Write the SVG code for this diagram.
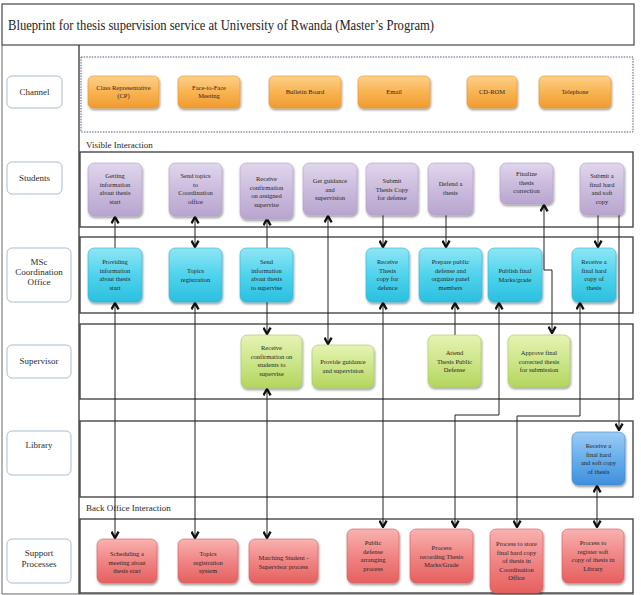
<svg xmlns="http://www.w3.org/2000/svg" width="641" height="595" viewBox="0 0 641 595">
<defs>
<linearGradient id="gOr" x1="0" y1="0" x2="0" y2="1"><stop offset="0" stop-color="#fdd08a"/><stop offset="0.5" stop-color="#f9b452"/><stop offset="1" stop-color="#f19a2e"/></linearGradient>
<linearGradient id="gPu" x1="0" y1="0" x2="0" y2="1"><stop offset="0" stop-color="#e0d6ec"/><stop offset="0.5" stop-color="#cbbcdd"/><stop offset="1" stop-color="#b8a5cf"/></linearGradient>
<linearGradient id="gCy" x1="0" y1="0" x2="0" y2="1"><stop offset="0" stop-color="#8fe6f5"/><stop offset="0.5" stop-color="#4fd3ec"/><stop offset="1" stop-color="#2bbfe0"/></linearGradient>
<linearGradient id="gGr" x1="0" y1="0" x2="0" y2="1"><stop offset="0" stop-color="#e6f3b4"/><stop offset="0.5" stop-color="#cde68a"/><stop offset="1" stop-color="#b4d55e"/></linearGradient>
<linearGradient id="gBl" x1="0" y1="0" x2="0" y2="1"><stop offset="0" stop-color="#9cccf4"/><stop offset="0.5" stop-color="#68aeec"/><stop offset="1" stop-color="#3f8fdc"/></linearGradient>
<linearGradient id="gRd" x1="0" y1="0" x2="0" y2="1"><stop offset="0" stop-color="#f9b2b0"/><stop offset="0.5" stop-color="#f08584"/><stop offset="1" stop-color="#e5605f"/></linearGradient>
<filter id="sh" x="-20%" y="-20%" width="140%" height="140%"><feDropShadow dx="0.8" dy="1.8" stdDeviation="1.2" flood-color="#000" flood-opacity="0.4"/></filter>
<marker id="ah" viewBox="0 0 10 10" refX="8.5" refY="5" markerWidth="9" markerHeight="9" markerUnits="userSpaceOnUse" orient="auto-start-reverse"><path d="M1.5,1 L8.5,5 L1.5,9" fill="none" stroke="#111" stroke-width="2.6"/></marker>
</defs>
<style>
.lane{fill:none;stroke:#3a3a3a;stroke-width:1.3}
.lbl{fill:#fff;stroke:#a9bcd6;stroke-width:1}
.lt{font-family:"Liberation Serif",serif;font-size:9px;fill:#2a2a2a;text-anchor:middle}
.nt{font-family:"Liberation Serif",serif;font-size:6.5px;fill:#262626;text-anchor:middle}
.sec{font-family:"Liberation Serif",serif;font-size:9px;fill:#2a2a2a}
.or{fill:url(#gOr);stroke:#e6962c;stroke-width:0.6;filter:url(#sh)}
.pu{fill:url(#gPu);stroke:#b3a0c9;stroke-width:0.6;filter:url(#sh)}
.cy{fill:url(#gCy);stroke:#2fb6d6;stroke-width:0.6;filter:url(#sh)}
.gr{fill:url(#gGr);stroke:#a9c85a;stroke-width:0.6;filter:url(#sh)}
.bl{fill:url(#gBl);stroke:#3f88cf;stroke-width:0.6;filter:url(#sh)}
.rd{fill:url(#gRd);stroke:#d85b5a;stroke-width:0.6;filter:url(#sh)}
.c{fill:none;stroke:#222;stroke-width:1}
</style>
<rect width="641" height="595" fill="#fff"/>

<!-- frame -->
<g id="frame">
<rect x="2" y="4" width="632" height="41" fill="#fff" stroke="#555" stroke-width="1.3"/>
<text x="8" y="30" font-family="Liberation Serif, serif" font-size="14" fill="#222" textLength="426" lengthAdjust="spacingAndGlyphs">Blueprint for thesis supervision service at University of Rwanda (Master’s Program)</text>
<line x1="2" y1="45" x2="2" y2="594" stroke="#666" stroke-width="1"/>
<line x1="79" y1="45" x2="79" y2="594" stroke="#333" stroke-width="1.3"/>
<line x1="2" y1="594" x2="634" y2="594" stroke="#666" stroke-width="1"/>
<rect x="81" y="57" width="552" height="75" fill="none" stroke="#4a5a7a" stroke-width="1" stroke-dasharray="1.5,1.2"/>
<text class="sec" x="86" y="148">Visible Interaction</text>
<text class="sec" x="86" y="511">Back Office Interaction</text>
<rect class="lane" x="80" y="152" width="553" height="75"/>
<rect class="lane" x="80" y="237" width="553" height="76"/>
<rect class="lane" x="80" y="324" width="553" height="75"/>
<rect class="lane" x="80" y="421" width="553" height="76"/>
<rect class="lane" x="80" y="519" width="553" height="74"/>
</g>

<!-- lane labels -->
<g id="lbl-channel"><rect class="lbl" x="7" y="76" width="55" height="32" rx="5"/><text class="lt" x="34.5" y="95">Channel</text></g>
<g id="lbl-students"><rect class="lbl" x="7" y="162" width="55" height="32" rx="5"/><text class="lt" x="34.5" y="181">Students</text></g>
<g id="lbl-msc"><rect class="lbl" x="7" y="248" width="64" height="54" rx="5"/><text class="lt" x="39" y="265"><tspan x="39">MSc</tspan><tspan x="39" dy="10">Coordination</tspan><tspan x="39" dy="10">Office</tspan></text></g>
<g id="lbl-supervisor"><rect class="lbl" x="7" y="345" width="64" height="33" rx="5"/><text class="lt" x="39" y="364">Supervisor</text></g>
<g id="lbl-library"><rect class="lbl" x="7" y="431" width="64" height="44" rx="5"/><text class="lt" x="39" y="448">Library</text></g>
<g id="lbl-support"><rect class="lbl" x="7" y="539" width="64" height="44" rx="5"/><text class="lt" x="39" y="556"><tspan x="39">Support</tspan><tspan x="39" dy="11">Processes</tspan></text></g>

<!-- connectors -->
<g id="connectors">
<line class="c" x1="115" y1="248" x2="115" y2="217" marker-end="url(#ah)"/>
<line class="c" x1="115" y1="303" x2="115" y2="538" marker-start="url(#ah)" marker-end="url(#ah)"/>
<line class="c" x1="195" y1="217" x2="195" y2="247" marker-start="url(#ah)" marker-end="url(#ah)"/>
<line class="c" x1="195" y1="303" x2="195" y2="538" marker-start="url(#ah)" marker-end="url(#ah)"/>
<line class="c" x1="267" y1="248" x2="267" y2="219" marker-end="url(#ah)"/>
<line class="c" x1="267" y1="302" x2="267" y2="334" marker-end="url(#ah)"/>
<line class="c" x1="267" y1="389" x2="267" y2="538" marker-start="url(#ah)" marker-end="url(#ah)"/>
<line class="c" x1="328" y1="216" x2="328" y2="344" marker-start="url(#ah)" marker-end="url(#ah)"/>
<line class="c" x1="383" y1="215" x2="383" y2="247" marker-end="url(#ah)"/>
<line class="c" x1="383" y1="303" x2="383" y2="527" marker-start="url(#ah)" marker-end="url(#ah)"/>
<line class="c" x1="446" y1="215" x2="446" y2="247" marker-end="url(#ah)"/>
<line class="c" x1="455" y1="335" x2="455" y2="303" marker-end="url(#ah)"/>
<path class="c" d="M499,303 V415 H455 V527" marker-start="url(#ah)" marker-end="url(#ah)"/>
<path class="c" d="M544,205 V270 H552 V333" marker-start="url(#ah)" marker-end="url(#ah)"/>
<path class="c" d="M580,303 V416 H517 V527" marker-start="url(#ah)" marker-end="url(#ah)"/>
<line class="c" x1="598" y1="215" x2="598" y2="247" marker-end="url(#ah)"/>
<line class="c" x1="619" y1="215" x2="619" y2="430" marker-end="url(#ah)"/>
<line class="c" x1="597" y1="486" x2="597" y2="527" marker-start="url(#ah)" marker-end="url(#ah)"/>
</g>

<!-- channel nodes -->
<g id="ch-cp"><rect class="or" x="88" y="76" width="71" height="32" rx="5"/><text class="nt" x="123.5" y="90"><tspan x="123.5">Class Representative</tspan><tspan x="123.5" dy="8">(CP)</tspan></text></g>
<g id="ch-f2f"><rect class="or" x="178" y="76" width="62" height="32" rx="5"/><text class="nt" x="209" y="90"><tspan x="209">Face-to-Face</tspan><tspan x="209" dy="8">Meeting</tspan></text></g>
<g id="ch-bulletin"><rect class="or" x="269" y="76" width="72" height="32" rx="5"/><text class="nt" x="305" y="94">Bulletin Board</text></g>
<g id="ch-email"><rect class="or" x="358" y="76" width="72" height="32" rx="5"/><text class="nt" x="394" y="94">Email</text></g>
<g id="ch-cdrom"><rect class="or" x="467" y="76" width="50" height="32" rx="5"/><text class="nt" x="492" y="94">CD-ROM</text></g>
<g id="ch-tel"><rect class="or" x="539" y="76" width="72" height="32" rx="5"/><text class="nt" x="575" y="94">Telephone</text></g>

<!-- students -->
<g id="st-getting"><rect class="pu" x="88" y="163" width="54" height="53" rx="6"/><text class="nt" x="115" y="178"><tspan x="115">Getting</tspan><tspan x="115" dy="8.5">information</tspan><tspan x="115" dy="8.5">about thesis</tspan><tspan x="115" dy="8.5">start</tspan></text></g>
<g id="st-send"><rect class="pu" x="169" y="163" width="53" height="53" rx="6"/><text class="nt" x="195.5" y="178"><tspan x="195.5">Send topics</tspan><tspan x="195.5" dy="8.5">to</tspan><tspan x="195.5" dy="8.5">Coordination</tspan><tspan x="195.5" dy="8.5">office</tspan></text></g>
<g id="st-receive"><rect class="pu" x="240" y="163" width="53" height="56" rx="6"/><text class="nt" x="266.5" y="181"><tspan x="266.5">Receive</tspan><tspan x="266.5" dy="8.5">confirmation</tspan><tspan x="266.5" dy="8.5">on assigned</tspan><tspan x="266.5" dy="8.5">supervise</tspan></text></g>
<g id="st-guidance"><rect class="pu" x="303" y="163" width="54" height="52" rx="6"/><text class="nt" x="330" y="183"><tspan x="330">Get guidance</tspan><tspan x="330" dy="8.5">and</tspan><tspan x="330" dy="8.5">supervision</tspan></text></g>
<g id="st-submit"><rect class="pu" x="366" y="163" width="52" height="52" rx="6"/><text class="nt" x="392" y="183"><tspan x="392">Submit</tspan><tspan x="392" dy="8.5">Thesis Copy</tspan><tspan x="392" dy="8.5">for defense</tspan></text></g>
<g id="st-defend"><rect class="pu" x="428" y="163" width="45" height="52" rx="6"/><text class="nt" x="450.5" y="186"><tspan x="450.5">Defend a</tspan><tspan x="450.5" dy="8.5">thesis</tspan></text></g>
<g id="st-finalize"><rect class="pu" x="500" y="163" width="53" height="41" rx="6"/><text class="nt" x="526.5" y="176"><tspan x="526.5">Finalize</tspan><tspan x="526.5" dy="8.5">thesis</tspan><tspan x="526.5" dy="8.5">correction</tspan></text></g>
<g id="st-final"><rect class="pu" x="580" y="163" width="44" height="52" rx="6"/><text class="nt" x="602" y="178"><tspan x="602">Submit a</tspan><tspan x="602" dy="8.5">final hard</tspan><tspan x="602" dy="8.5">and soft</tspan><tspan x="602" dy="8.5">copy</tspan></text></g>

<!-- msc -->
<g id="ms-providing"><rect class="cy" x="88" y="248" width="54" height="54" rx="6"/><text class="nt" x="115" y="264"><tspan x="115">Providing</tspan><tspan x="115" dy="8.5">information</tspan><tspan x="115" dy="8.5">about thesis</tspan><tspan x="115" dy="8.5">start</tspan></text></g>
<g id="ms-topics"><rect class="cy" x="169" y="248" width="53" height="54" rx="6"/><text class="nt" x="195.5" y="273"><tspan x="195.5">Topics</tspan><tspan x="195.5" dy="8.5">registration</tspan></text></g>
<g id="ms-send"><rect class="cy" x="240" y="248" width="53" height="54" rx="6"/><text class="nt" x="266.5" y="264"><tspan x="266.5">Send</tspan><tspan x="266.5" dy="8.5">information</tspan><tspan x="266.5" dy="8.5">about thesis</tspan><tspan x="266.5" dy="8.5">to supervise</tspan></text></g>
<g id="ms-receive"><rect class="cy" x="366" y="248" width="43" height="54" rx="6"/><text class="nt" x="387.5" y="264"><tspan x="387.5">Receive</tspan><tspan x="387.5" dy="8.5">Thesis</tspan><tspan x="387.5" dy="8.5">copy for</tspan><tspan x="387.5" dy="8.5">defence</tspan></text></g>
<g id="ms-prepare"><rect class="cy" x="419" y="248" width="63" height="54" rx="6"/><text class="nt" x="450.5" y="264"><tspan x="450.5">Prepare public</tspan><tspan x="450.5" dy="8.5">defense and</tspan><tspan x="450.5" dy="8.5">organize panel</tspan><tspan x="450.5" dy="8.5">members</tspan></text></g>
<g id="ms-publish"><rect class="cy" x="488" y="248" width="54" height="54" rx="6"/><text class="nt" x="515" y="273"><tspan x="515">Publish final</tspan><tspan x="515" dy="8.5">Marks/grade</tspan></text></g>
<g id="ms-final"><rect class="cy" x="572" y="248" width="44" height="54" rx="6"/><text class="nt" x="594" y="264"><tspan x="594">Receive a</tspan><tspan x="594" dy="8.5">final hard</tspan><tspan x="594" dy="8.5">copy of</tspan><tspan x="594" dy="8.5">thesis</tspan></text></g>

<!-- supervisor -->
<g id="su-receive"><rect class="gr" x="241" y="335" width="61" height="53" rx="6"/><text class="nt" x="271.5" y="350"><tspan x="271.5">Receive</tspan><tspan x="271.5" dy="8.5">confirmation on</tspan><tspan x="271.5" dy="8.5">students to</tspan><tspan x="271.5" dy="8.5">supervise</tspan></text></g>
<g id="su-provide"><rect class="gr" x="312" y="345" width="62" height="43" rx="6"/><text class="nt" x="343" y="364"><tspan x="343">Provide guidance</tspan><tspan x="343" dy="8.5">and supervision</tspan></text></g>
<g id="su-attend"><rect class="gr" x="428" y="335" width="53" height="52" rx="6"/><text class="nt" x="454.5" y="355"><tspan x="454.5">Attend</tspan><tspan x="454.5" dy="8.5">Thesis Public</tspan><tspan x="454.5" dy="8.5">Defense</tspan></text></g>
<g id="su-approve"><rect class="gr" x="508" y="335" width="62" height="52" rx="6"/><text class="nt" x="539" y="355"><tspan x="539">Approve final</tspan><tspan x="539" dy="8.5">corrected thesis</tspan><tspan x="539" dy="8.5">for submission</tspan></text></g>

<!-- library -->
<g id="li-receive"><rect class="bl" x="572" y="432" width="53" height="53" rx="6"/><text class="nt" x="598.5" y="448"><tspan x="598.5">Receive a</tspan><tspan x="598.5" dy="8.5">final hard</tspan><tspan x="598.5" dy="8.5">and soft copy</tspan><tspan x="598.5" dy="8.5">of thesis</tspan></text></g>

<!-- support -->
<g id="sp-scheduling"><rect class="rd" x="97" y="539" width="60" height="44" rx="6"/><text class="nt" x="127" y="556"><tspan x="127">Scheduling a</tspan><tspan x="127" dy="8.5">meeting about</tspan><tspan x="127" dy="8.5">thesis start</tspan></text></g>
<g id="sp-topics"><rect class="rd" x="178" y="539" width="60" height="44" rx="6"/><text class="nt" x="208" y="556"><tspan x="208">Topics</tspan><tspan x="208" dy="8.5">registration</tspan><tspan x="208" dy="8.5">system</tspan></text></g>
<g id="sp-matching"><rect class="rd" x="249" y="539" width="69" height="44" rx="6"/><text class="nt" x="283.5" y="560"><tspan x="283.5">Matching Student -</tspan><tspan x="283.5" dy="8.5">Supervisor process</tspan></text></g>
<g id="sp-public"><rect class="rd" x="347" y="529" width="52" height="54" rx="6"/><text class="nt" x="373" y="545"><tspan x="373">Public</tspan><tspan x="373" dy="8.5">defense</tspan><tspan x="373" dy="8.5">arranging</tspan><tspan x="373" dy="8.5">process</tspan></text></g>
<g id="sp-recording"><rect class="rd" x="410" y="529" width="63" height="54" rx="6"/><text class="nt" x="441.5" y="550"><tspan x="441.5">Process</tspan><tspan x="441.5" dy="8.5">recording Thesis</tspan><tspan x="441.5" dy="8.5">Marks/Grade</tspan></text></g>
<g id="sp-store"><rect class="rd" x="490" y="529" width="53" height="64" rx="6"/><text class="nt" x="516.5" y="546"><tspan x="516.5">Process to store</tspan><tspan x="516.5" dy="8.5">final hard copy</tspan><tspan x="516.5" dy="8.5">of thesis in</tspan><tspan x="516.5" dy="8.5">Coordination</tspan><tspan x="516.5" dy="8.5">Office</tspan></text></g>
<g id="sp-register"><rect class="rd" x="562" y="529" width="62" height="54" rx="6"/><text class="nt" x="593" y="545"><tspan x="593">Process to</tspan><tspan x="593" dy="8.5">register soft</tspan><tspan x="593" dy="8.5">copy of thesis in</tspan><tspan x="593" dy="8.5">Library</tspan></text></g>
</svg>
